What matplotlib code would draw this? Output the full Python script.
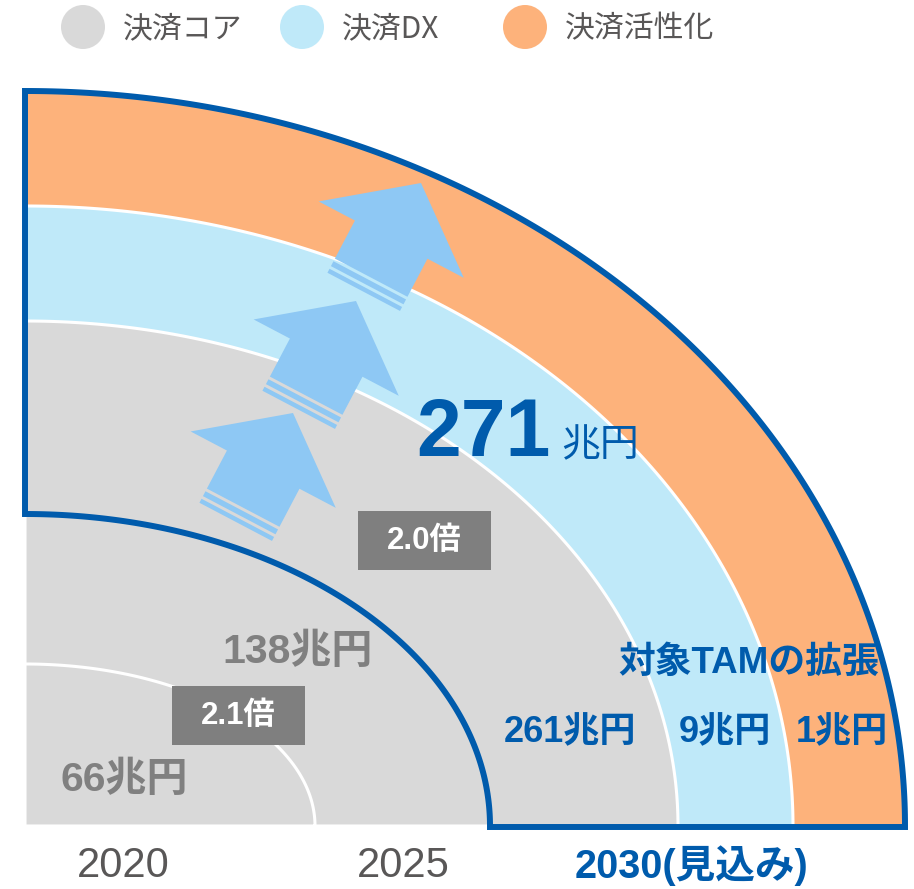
import numpy as np
import matplotlib
matplotlib.use("Agg")
import matplotlib.pyplot as plt
from matplotlib.patches import Polygon, Circle, Rectangle

plt.rcParams['font.family'] = ['Liberation Sans', 'Noto Sans CJK JP', 'DejaVu Sans']

# data
years = ['2020', '2025', '2030(見込み)']
totals = [66, 138, 271]
growth = ['2.1倍', '2.0倍']
segments = ['決済コア', '決済DX', '決済活性化']
seg_values = [261, 9, 1]
tam_label = '対象TAMの拡張'

# colours
c_core = '#D9D9D9'
c_dx = '#BFE9F9'
c_act = '#FDB27B'
c_navy = '#005BAC'
c_arrow = '#8EC8F4'
c_text = '#595757'
c_lab = '#808080'

# layout (pixel coords, origin of quarter ellipses)
cx, cy = 25, 826
r_2030 = [(653, 505), (768, 620), (880, 735)]  # core, dx, activation
r_2020 = (290, 162)
r_2025 = (465, 312)


def arc(rx, ry, t0=0, t1=90, n=200):
    t = np.radians(np.linspace(t0, t1, n))
    return np.column_stack([cx + rx * np.cos(t), cy - ry * np.sin(t)])


def wedge(rx, ry):
    return np.vstack([[cx, cy], arc(rx, ry)])


fig = plt.figure(figsize=(9.14, 8.89), dpi=100)
ax = fig.add_axes([0, 0, 1, 1])
ax.set_xlim(0, 914)
ax.set_ylim(889, 0)
ax.axis('off')

# 2030 segments, outermost first
for (rx, ry), col in zip(r_2030[::-1], [c_act, c_dx, c_core]):
    ax.add_patch(Polygon(wedge(rx, ry), closed=True, fc=col, ec='white', lw=2.2))

# 2020 wedge
ax.add_patch(Polygon(wedge(*r_2020), closed=True, fc=c_core, ec='white', lw=2.2))


# arrows
def block_arrow(tip):
    d = np.array([30, -57]) / np.hypot(30, 57)
    p = np.array([-d[1], d[0]])
    tip = np.array(tip, float)

    def pt(s, t):
        return tip + s * d + t * p
    body = [(0, 0), (-64, 82), (-64, 41), (-107, 41), (-107, -41), (-64, -41), (-64, -82)]
    ax.add_patch(Polygon([pt(s, t) for s, t in body], closed=True, fc=c_arrow, ec='none', zorder=3))
    for s0, s1 in [(-110, -115.5), (-118.5, -123)]:
        ax.add_patch(Polygon([pt(s0, 41), pt(s0, -41), pt(s1, -41), pt(s1, 41)],
                             closed=True, fc=c_arrow, ec='none', zorder=3))


for tip in [(293, 413), (356, 301), (421, 183)]:
    block_arrow(tip)

# 2030 outline
outer = arc(*r_2030[2], 90, 0)
inner = arc(*r_2025, 0, 90)
outline = np.vstack([outer, [[cx + r_2030[2][0], cy + 1]], [[cx + r_2025[0], cy + 1]], inner])
ax.add_patch(Polygon(outline, closed=True, fc='none', ec=c_navy, lw=4.3, joinstyle='miter', zorder=4))

# legend
for x, lab, col in zip([83, 302, 525], segments, [c_core, c_dx, c_act]):
    ax.add_patch(Circle((x, 27), 22, fc=col, ec='none'))
    ax.text(x + 40, 29, lab, fontsize=21.5, color=c_text, va='center', ha='left',
            family=['Noto Sans CJK JP', 'DejaVu Sans'])

# year labels
ax.text(123, 866, years[0], fontsize=30, color=c_text, ha='center', va='center')
ax.text(403, 866, years[1], fontsize=30, color=c_text, ha='center', va='center')
ax.text(692, 866, years[2], fontsize=28.5, color=c_navy, ha='center', va='center', weight='bold')

# totals
ax.text(124, 780, f'{totals[0]}兆円', fontsize=29.5, color=c_lab, ha='center', va='center', weight='bold')
ax.text(298, 652, f'{totals[1]}兆円', fontsize=29.5, color=c_lab, ha='center', va='center', weight='bold')
ax.text(551, 456, f'{totals[2]}', fontsize=58, color=c_navy, ha='right', va='baseline',
        weight='bold', zorder=5)
ax.text(561, 456, '兆円', fontsize=28, color=c_navy, ha='left', va='baseline',
        family=['Noto Sans CJK JP'], zorder=5)

# growth boxes
for (x0, y0), g in zip([(172, 686), (358, 511)], growth):
    ax.add_patch(Rectangle((x0, y0), 133, 59, fc='#7F7F7F', ec='none', zorder=5))
    ax.text(x0 + 66.5, y0 + 30, g, fontsize=22.5, color='white', weight='bold',
            ha='center', va='center', zorder=6)

# segment values
for x, v in zip([570, 725, 842], seg_values):
    ax.text(x, 733, f'{v}兆円', fontsize=26, color=c_navy, weight='bold',
            ha='center', va='center', zorder=5)
ax.text(749, 663, tam_label, fontsize=26.5, color=c_navy, weight='bold',
        ha='center', va='center', zorder=5)

fig.savefig('out.png', dpi=100)
